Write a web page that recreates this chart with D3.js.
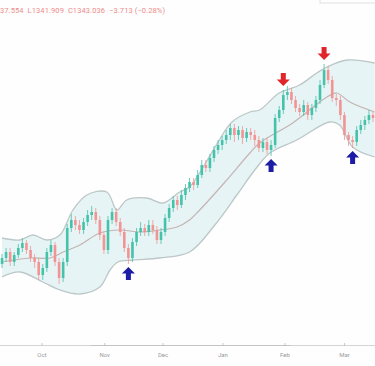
<!DOCTYPE html>
<html><head><meta charset="utf-8">
<script src="https://cdn.jsdelivr.net/npm/d3@7"></script>
<style>html,body{margin:0;padding:0;background:#fff;overflow:hidden}svg{display:block}</style>
</head><body>
<svg id="c" width="375" height="366"></svg>
<script>
const openP = [1268,1271,1274,1269,1272.5,1276,1278.5,1275,1271,1269,1262.5,1266,1274,1277.5,1269,1261,1269,1286,1290,1287.5,1285,1289,1292.5,1294,1290,1282.5,1275,1290,1294,1289,1284,1276,1271,1279,1284,1286,1284,1287.5,1285,1280,1284,1291,1296,1300,1297.5,1302.5,1306,1309,1307.5,1312.5,1317.5,1316,1321,1325,1327.5,1330,1332.5,1336,1332.5,1335,1331,1334,1332.5,1330,1326,1329,1325,1327.5,1341,1345,1352.5,1354,1350,1346,1344,1347.5,1342.5,1346,1350,1357.5,1365,1360,1351,1350,1342.5,1332.5,1330,1329,1335,1337.5,1340,1342.5];
const closeP = [1271,1274,1269,1272.5,1276,1278.5,1275,1271,1269,1262.5,1266,1274,1277.5,1269,1261,1269,1286,1290,1287.5,1285,1289,1292.5,1294,1290,1282.5,1275,1290,1294,1289,1284,1276,1271,1279,1284,1286,1284,1287.5,1285,1280,1284,1291,1296,1300,1297.5,1302.5,1306,1309,1307.5,1312.5,1317.5,1316,1321,1325,1327.5,1330,1332.5,1336,1332.5,1335,1331,1334,1332.5,1330,1326,1329,1325,1327.5,1341,1345,1352.5,1354,1350,1346,1344,1347.5,1342.5,1346,1350,1357.5,1365,1360,1351,1350,1342.5,1332.5,1330,1329,1335,1337.5,1340,1342.5,1341];
const highP = [1273,1276,1276,1274,1278,1281,1280,1277,1273,1271,1268,1276,1280,1279,1271,1271,1288,1293,1292,1290,1291,1295,1297,1296,1292,1284,1292,1296,1296,1291,1286,1278,1281,1286,1289,1288,1290,1290,1287,1286,1293,1298,1302,1302,1305,1308,1311,1311,1315,1320,1320,1323,1327,1330,1332,1335,1338,1338,1337,1337,1336,1336,1335,1332,1331,1331,1330,1343,1347,1355,1357,1356,1352,1348,1350,1349,1348,1352,1360,1368,1367,1362,1353,1352,1344,1334,1332,1337,1340,1342,1345,1344];
const lowP = [1266,1269,1267,1267,1271,1274,1273,1269,1266,1260,1260,1264,1272,1267,1258,1259,1267,1284,1285,1283,1283,1287,1290,1288,1280,1273,1273,1288,1287,1282,1274,1268,1269,1277,1282,1282,1282,1283,1278,1278,1282,1289,1294,1295,1296,1300,1304,1305,1306,1311,1314,1314,1319,1323,1325,1328,1330,1329,1330,1328,1329,1330,1327,1324,1324,1323,1322,1326,1339,1343,1350,1348,1344,1342,1342,1340,1340,1344,1348,1356,1358,1349,1347,1340,1330,1327,1326,1327,1333,1335,1338,1339];

const upperIdx = [0,4.4,7.6,11,14.2,17.4,20.8,25.7,28.2,30.6,35.5,39.5,43.6,46,49.8,53,56.4,60.8,63.2,68,73,77.2,79.7,84.6,91.4];
const upperVal = [1281,1280,1282.5,1280,1282.5,1295,1302.5,1304,1295,1300,1301,1298.5,1304,1306.5,1318,1329,1339,1344,1345,1353.5,1357.5,1363.5,1366.5,1370,1368.5];
const midIdx = [0,6.9,11.8,15,19.1,24,28.9,33.8,38.7,42.9,46,48.5,54.7,60.8,63.2,71.3,79.7,82.1,85.3,91.4];
const midVal = [1269,1271,1271,1274,1277.5,1283.5,1285,1284,1285,1286.5,1290,1295,1309,1323.5,1328.5,1338.5,1351.5,1353.5,1349,1344];
const lowerIdx = [0,4.4,10,14.2,19.1,24,26.5,28.4,32.1,38.7,46,52.2,57.6,62,65.7,72.3,80.4,82.8,86,91.4];
const lowerVal = [1261.5,1264,1259,1255,1253,1256.5,1265,1269,1270,1271,1274,1287.5,1302.5,1315,1323.5,1330,1339,1337.5,1326.5,1321.5];

const buyIdx = [31,66,86];
const sellIdx = [69,79];
const monthLabels = ["Oct","Nov","Dec","Jan","Feb","Mar"];
const monthIdx = [9.8,25.2,39.5,54.2,69.4,84];
const headerText = "37.554  L1341.909  C1343.036  −3.713 (−0.28%)";

const W = 375, H = 366;
const svg = d3.select("#c");
const x = d3.scaleLinear().domain([0, closeP.length - 1]).range([2, 373]);
const y = d3.scaleLinear().domain([1217, 1400]).range([366, 0]);

svg.append("rect").attr("width", W).attr("height", H).attr("fill", "#fefefe");

// band fill
const mk = d3.line().x(d => x(d[0])).y(d => y(d[1])).curve(d3.curveCatmullRom.alpha(0.5));
const upPts = upperIdx.map((v, i) => [v, upperVal[i]]);
const loPts = lowerIdx.map((v, i) => [v, lowerVal[i]]);
const midPts = midIdx.map((v, i) => [v, midVal[i]]);
const pUp = mk(upPts);
const pLoRev = mk(loPts.slice().reverse());
svg.append("path").attr("d", pUp + "L" + pLoRev.slice(1) + "Z")
  .attr("fill", "#e7f4f6").attr("stroke", "none");
svg.append("path").attr("d", pUp).attr("fill", "none").attr("stroke", "#bcc7c7").attr("stroke-width", 1.3);
svg.append("path").attr("d", mk(loPts)).attr("fill", "none").attr("stroke", "#bcc7c7").attr("stroke-width", 1.3);
svg.append("path").attr("d", mk(midPts)).attr("fill", "none").attr("stroke", "#c4b4b2").attr("stroke-width", 1.2);

// candles
const up = "#45c2aa", dn = "#f29494";
const g = svg.append("g");
closeP.forEach((c, i) => {
  const o = openP[i];
  const col = c >= o ? up : dn;
  g.append("line").attr("x1", x(i)).attr("x2", x(i)).attr("y1", y(highP[i])).attr("y2", y(lowP[i]))
    .attr("stroke", col).attr("stroke-width", 0.8);
  const top = y(Math.max(o, c)), bot = y(Math.min(o, c));
  g.append("rect").attr("x", x(i) - 1.3).attr("width", 2.6).attr("y", top).attr("height", Math.max(1, bot - top))
    .attr("fill", col);
});

// arrows
function arrow(cx, tipY, dir, col) {
  const p = [[0,0],[6.5,6.5],[2.5,6.5],[2.5,13],[-2.5,13],[-2.5,6.5],[-6.5,6.5]]
    .map(q => [cx + q[0], tipY + (dir < 0 ? q[1] : -q[1])]);
  svg.append("path").attr("d", "M" + p.map(q => q.join(",")).join("L") + "Z").attr("fill", col);
}
buyIdx.forEach(i => arrow(x(i), y(lowP[i]) + 3, -1, "#1c1ca6"));
sellIdx.forEach(i => arrow(x(i), y(highP[i]) - 4, 1, "#e0262a"));

// axis
svg.append("line").attr("x1", 0).attr("x2", W).attr("y1", 345.5).attr("y2", 345.5).attr("stroke", "#d4d4d4").attr("stroke-width", 1);
svg.append("line").attr("x1", 90).attr("x2", 290).attr("y1", 345.5).attr("y2", 345.5).attr("stroke", "#c4c4c4").attr("stroke-width", 1);
const ax = svg.append("g");
monthIdx.forEach((m, i) => {
  ax.append("line").attr("x1", x(m)).attr("x2", x(m)).attr("y1", 343).attr("y2", 346).attr("stroke", "#bbb").attr("stroke-width", 0.8);
  ax.append("text").attr("x", x(m)).attr("y", 357).attr("text-anchor", "middle")
    .attr("font-family", "Roboto, sans-serif").attr("font-size", 6).attr("fill", "#9a9a9a").text(monthLabels[i]);
});

// header
svg.append("text").attr("x", 0).attr("y", 13).attr("font-family", "Roboto, sans-serif").attr("font-size", 7.5)
  .attr("fill", "#ee8a8a").attr("textLength", 165).attr("lengthAdjust", "spacing")
  .style("white-space", "pre").text(headerText);
svg.append("rect").attr("x", 320).attr("y", -10).attr("width", 60).attr("height", 13).attr("fill", "none").attr("stroke", "#e0e0e0");
</script>
</body></html>
